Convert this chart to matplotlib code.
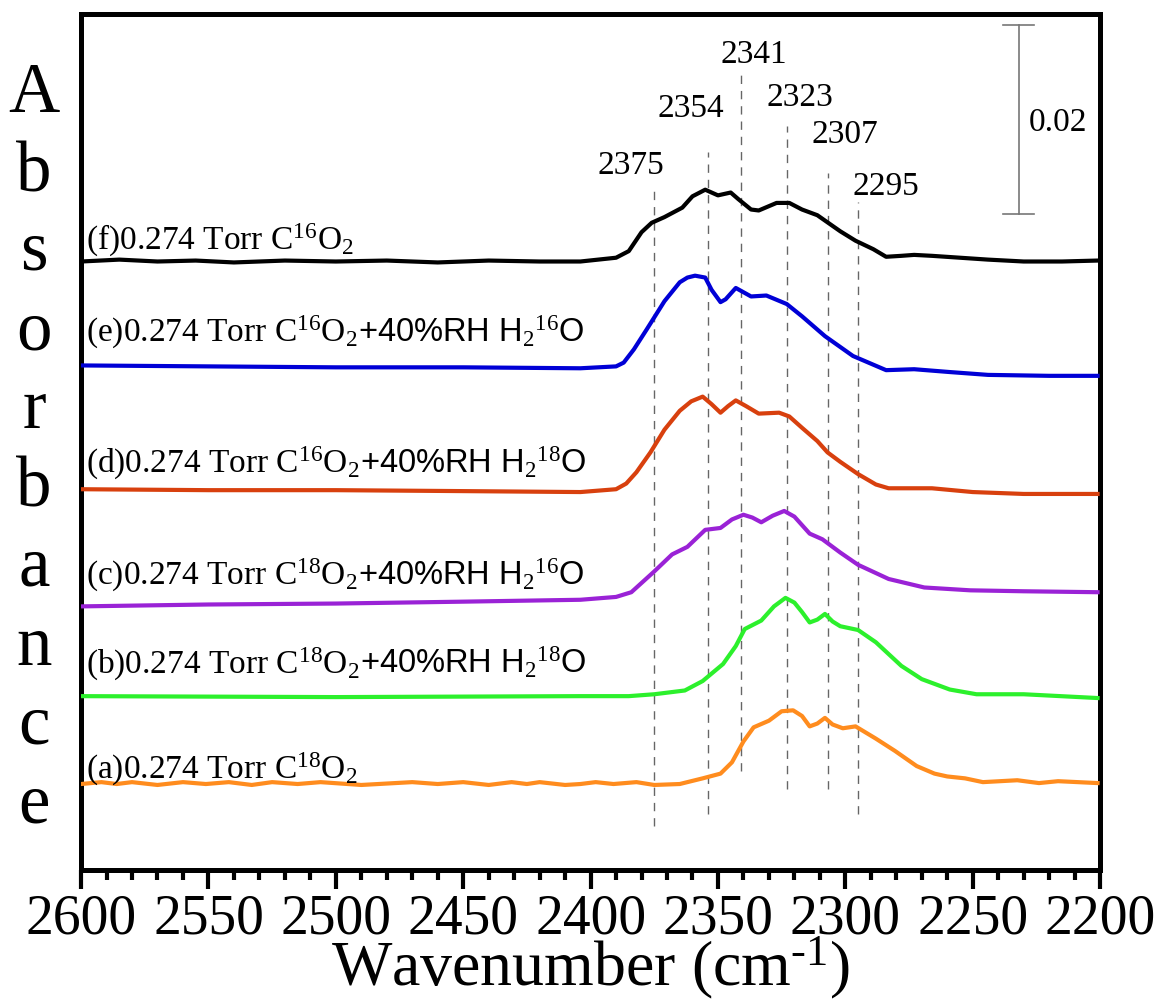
import numpy as np
import matplotlib
matplotlib.use("Agg")
import matplotlib.pyplot as plt
from matplotlib.ticker import MultipleLocator
from matplotlib.transforms import blended_transform_factory, IdentityTransform

plt.rcParams['font.family'] = 'Liberation Serif'
plt.rcParams['mathtext.fontset'] = 'custom'
plt.rcParams['mathtext.rm'] = 'Liberation Serif'
plt.rcParams['mathtext.it'] = 'Liberation Serif:italic'
plt.rcParams['mathtext.sf'] = 'Liberation Sans'

# spectra, absorbance in units of 1e-3 relative to each trace baseline
wn_a = [2600, 2592, 2586, 2580, 2570, 2560, 2551, 2542, 2533, 2525,
        2515, 2506, 2490, 2470, 2460, 2450, 2440, 2431, 2425, 2420,
        2410, 2404, 2398, 2391, 2382, 2375, 2365, 2356, 2349, 2344.5,
        2340, 2336, 2330, 2325, 2320.5, 2317, 2314, 2311, 2308, 2305,
        2301, 2296, 2288, 2280.5, 2272, 2265, 2260, 2253, 2246, 2232.5,
        2224, 2216.5, 2201]
abs_a = [0.0, 0.2, 0.0, 0.2, -0.1, 0.2, 0.0, 0.2, -0.1, 0.2,
         0.0, 0.2, -0.1, 0.2, 0.0, 0.2, -0.1, 0.2, 0.0, 0.2,
         -0.1, 0.0, 0.2, 0.0, 0.2, -0.1, 0.0, 0.6, 1.1, 2.3,
         4.5, 6.0, 6.7, 7.7, 7.8, 7.2, 6.1, 6.4, 7.0, 6.3,
         5.9, 6.1, 4.8, 3.5, 1.9, 1.1, 0.8, 0.6, 0.2, 0.4,
         0.1, 0.3, 0.1]

wn_b = [2600, 2500, 2404, 2385, 2375, 2363, 2356, 2348, 2343, 2339.5,
        2333, 2328, 2323.5, 2320, 2317, 2314, 2311, 2308, 2305, 2302,
        2295, 2288, 2278, 2270, 2259, 2248.5, 2230, 2201]
abs_b = [0.0, -0.1, 0.0, 0.0, 0.2, 0.6, 1.6, 3.4, 5.3, 7.1,
         8.0, 9.5, 10.4, 9.9, 8.9, 7.8, 8.1, 8.7, 7.9, 7.4,
         7.0, 5.7, 3.2, 1.8, 0.7, 0.2, 0.2, -0.2]

wn_c = [2600, 2550, 2500, 2450, 2404, 2390, 2384, 2375, 2368, 2362,
        2355, 2349, 2344.5, 2340, 2336.5, 2333, 2328.5, 2324, 2320, 2314,
        2309, 2302, 2295, 2283, 2269, 2251, 2230, 2201]
abs_c = [0.0, 0.2, 0.3, 0.5, 0.7, 1.0, 1.5, 3.7, 5.5, 6.3,
         8.1, 8.3, 9.2, 9.7, 9.4, 8.9, 9.6, 10.1, 9.5, 7.7,
         7.1, 5.7, 4.4, 2.9, 2.0, 1.7, 1.6, 1.5]

wn_d = [2600, 2550, 2500, 2450, 2404, 2390, 2386, 2382, 2376.5, 2371,
        2365, 2360.5, 2356, 2352.5, 2349, 2346, 2343, 2339, 2334, 2326,
        2322, 2317, 2311, 2307, 2302, 2295, 2288, 2283, 2266, 2250,
        2230, 2201]
abs_d = [0.0, -0.1, -0.1, -0.2, -0.3, 0.0, 0.6, 1.8, 3.9, 6.3,
         8.3, 9.3, 9.8, 9.0, 8.1, 8.8, 9.4, 8.8, 8.0, 8.1,
         7.7, 6.5, 5.1, 3.9, 2.9, 1.6, 0.5, 0.1, 0.1, -0.3,
         -0.5, -0.5]

wn_e = [2600, 2550, 2500, 2450, 2404, 2390, 2387, 2383, 2378, 2371,
        2365, 2362, 2359, 2355, 2352.5, 2349, 2347, 2343, 2337, 2331,
        2323, 2317, 2308, 2297, 2284, 2273, 2259, 2244, 2220, 2201]
abs_e = [0.1, 0.0, -0.1, -0.1, -0.2, 0.0, 0.4, 1.8, 3.9, 6.9,
         8.9, 9.4, 9.6, 9.4, 8.1, 6.8, 7.1, 8.3, 7.4, 7.5,
         6.6, 5.3, 3.2, 1.1, -0.4, -0.3, -0.6, -0.9, -1.0, -1.0]

wn_f = [2600, 2585, 2570, 2555, 2540, 2520, 2500, 2480, 2460, 2440,
        2420, 2404, 2390, 2385, 2380, 2376, 2371, 2364, 2360, 2355,
        2350, 2345, 2342, 2337, 2334, 2327, 2322, 2317, 2311, 2302,
        2296, 2289, 2284, 2278, 2273, 2266, 2255, 2244, 2230, 2215, 2201]
abs_f = [0.0, 0.2, 0.0, 0.1, -0.1, 0.1, 0.0, 0.1, -0.1, 0.1,
         0.0, 0.0, 0.4, 1.1, 3.1, 4.1, 4.7, 5.7, 6.9, 7.6,
         7.0, 7.3, 6.6, 5.5, 5.4, 6.2, 6.2, 5.5, 4.9, 3.2,
         2.2, 1.3, 0.5, 0.6, 0.7, 0.6, 0.4, 0.2, 0.0, 0.0, 0.1]

offsets = [9.1, 18.4, 27.9, 40.3, 53.3, 64.4]
colors = ['#ff8c1e', '#2cf02c', '#9a22d6', '#d8400e', '#0000d6', '#000000']
labels_co2 = [
    r"(a)0.274 Torr C$^{18}$O$_2$",
    r"(b)0.274 Torr C$^{18}$O$_2$",
    r"(c)0.274 Torr C$^{18}$O$_2$",
    r"(d)0.274 Torr C$^{16}$O$_2$",
    r"(e)0.274 Torr C$^{16}$O$_2$",
    r"(f)0.274 Torr C$^{16}$O$_2$",
]
labels_water = [
    "",
    r"+40%RH H$_2$$^{18}$O",
    r"+40%RH H$_2$$^{16}$O",
    r"+40%RH H$_2$$^{18}$O",
    r"+40%RH H$_2$$^{16}$O",
    "",
]
label_y = [9.8, 20.9, 30.3, 42.1, 56.0, 65.7]

peaks = [2375, 2354, 2341, 2323, 2307, 2295]
peak_line_top = [72.4, 76.0, 84.7, 78.7, 73.8, 70.7]
peak_line_bot = [4.7, 5.9, 10.5, 8.6, 8.6, 5.9]
peak_text_x = [2384, 2360.5, 2336, 2318, 2300, 2284]
peak_text_y = [73.8, 79.8, 85.5, 81.0, 77.1, 71.5]

fig = plt.figure(figsize=(11.58, 10.03), dpi=100)
ax = fig.add_axes([0.070, 0.1316, 0.880, 0.8535])

spectra = [(wn_a, abs_a), (wn_b, abs_b), (wn_c, abs_c),
           (wn_d, abs_d), (wn_e, abs_e), (wn_f, abs_f)]
first_parts = []
for (wn, ab), off, col, lab, ly in zip(spectra, offsets, colors, labels_co2, label_y):
    ax.plot(wn, (np.array(ab) + off) * 1e-3, color=col, lw=3.0,
            solid_joinstyle='round', zorder=3)
    t = ax.text(2598, ly * 1e-3, lab, fontsize=24, va='baseline', ha='left',
                family='Liberation Serif', zorder=4)
    first_parts.append(t)

for p, top, bot, tx, ty in zip(peaks, peak_line_top, peak_line_bot, peak_text_x, peak_text_y):
    ax.plot([p, p], [bot * 1e-3, top * 1e-3], color='#666666', lw=1.0,
            dashes=(6, 5), zorder=2)
    ax.text(tx, ty * 1e-3, str(p), fontsize=24, ha='center', va='baseline')

# 0.02 scale bar
ax.plot([2232, 2232], [0.0694, 0.0894], color='#777777', lw=1.2)
ax.plot([2238, 2226], [0.0694, 0.0694], color='#777777', lw=1.2)
ax.plot([2238, 2226], [0.0894, 0.0894], color='#777777', lw=1.2)
ax.text(2228, 0.0792, '0.02', fontsize=24, ha='left', va='center')

ax.set_xlim(2600, 2200)
ax.set_ylim(0, 0.0906)
ax.xaxis.set_major_locator(MultipleLocator(50))
ax.xaxis.set_minor_locator(MultipleLocator(10))
ax.tick_params(axis='x', which='major', direction='out', length=14, width=3,
               labelsize=40, pad=2)
ax.tick_params(axis='x', which='minor', direction='out', length=7, width=3)
ax.set_yticks([])
for s in ax.spines.values():
    s.set_linewidth(3.6)
ax.set_xlabel(r"Wavenumber (cm$^{\text{-1}}$)", fontsize=46, labelpad=-8)

# vertical "Absorbance" label, one letter per line
for i, ch in enumerate("Absorbance"):
    fig.text(34 / 1158, 1 - (112 + 79 * i) / 1003, ch, fontsize=51,
             ha='center', va='baseline')

# water part of the labels, in a sans font right after the CO2 part
fig.canvas.draw()
renderer = fig.canvas.get_renderer()
trans = blended_transform_factory(IdentityTransform(), ax.transData)
for t, w, ly in zip(first_parts, labels_water, label_y):
    if w:
        x1 = t.get_window_extent(renderer).x1
        ax.text(x1, ly * 1e-3, w, fontsize=23.5, va='baseline', ha='left',
                family='Liberation Sans', transform=trans, zorder=4)

fig.savefig('out.png', dpi=100)
